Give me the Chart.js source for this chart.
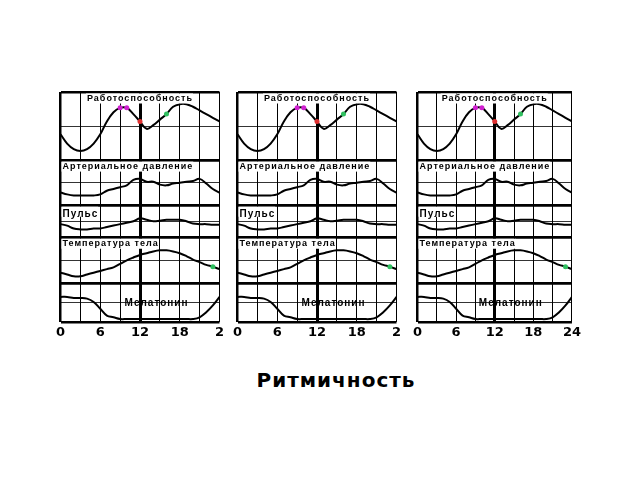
<!DOCTYPE html>
<html><head><meta charset="utf-8">
<script src="https://cdn.jsdelivr.net/npm/chart.js@4"></script>
<style>
body{margin:0;background:#fff;width:640px;height:480px;position:relative;overflow:hidden;font-family:"Liberation Sans",Arial,sans-serif}
.p{position:absolute;top:88px;width:170px;height:254px}
#t{position:absolute;top:368px;left:0;width:672px;text-align:center;font:bold 20px "DejaVu Sans",sans-serif;letter-spacing:1px}
</style></head><body>
<div class="p" style="left:54px;width:172px"><canvas id="c0"></canvas></div>
<div class="p" style="left:231px;width:172px"><canvas id="c1"></canvas></div>
<div class="p" style="left:411px;width:172px"><canvas id="c2"></canvas></div>
<div id="t">Ритмичность</div>
<script>
const hours=[0,1,2,3,4,5,6,7,8,9,10,11,12,13,14,15,16,17,18,19,20,21,22,23,24];
const rowTitles=["Работоспособность","Артериальное давление","Пульс","Температура тела","Мелатонин"];
const work=[70,45,30,25,30,45,70,105,130,142,142,125,105,85,95,110,125,145,152,152,145,135,125,115,105];
const pressure=[35,30,27,27,27,27,30,40,45,50,55,70,73,65,65,57,55,60,62,65,67,73,60,45,35];
const pulse=[45,40,30,27,27,30,30,35,40,45,50,55,65,60,55,57,60,60,60,55,47,45,45,43,43];
const temperature=[30,25,20,20,25,30,35,40,45,55,65,73,80,85,90,93,93,90,85,77,67,60,52,47,40];
const melatonin=[75,75,72,72,70,60,40,20,15,10,10,10,10,10,10,10,10,10,10,10,10,15,30,50,75];
const rowMax=[185,125,110,130,115];
const rowWeights=[68,45,32,46,39];
const markers=[{row:0,h:9,c:"#d020d0"},{row:0,h:10,c:"#d020d0"},{row:0,h:12,c:"#e03030"},{row:0,h:16,c:"#30c060"},{row:3,h:23,c:"#30c060"}];
const xTickLabels=[["0","6","12","18","2"],["0","6","12","18","2"],["0","6","12","18","24"]];
const series=[work,pressure,pulse,temperature,melatonin];

const titlePlugin={id:"tp",afterDraw(ch){
  const ctx=ch.ctx;ctx.save();ctx.fillStyle="#000";
  const xs=ch.scales.x;
  ctx.letterSpacing="1px";
  rowTitles.forEach((t,i)=>{
    const s=ch.scales["y"+i];
    if(i===4){ctx.font="bold 10px 'Liberation Sans',Arial";ctx.textAlign="center";ctx.textBaseline="middle";
      ctx.fillText(t,xs.getPixelForValue(14.5),(s.top+s.bottom)/2);}
    else{ctx.font=(i===2?"bold 10px":"bold 9px")+" 'Liberation Sans',Arial";ctx.textAlign="left";ctx.textBaseline="top";
      const w=ctx.measureText(t).width;
      const x=i===0?xs.getPixelForValue(12)-w/2:xs.left+2;
      ctx.fillStyle="#fff";ctx.fillRect(x-1,s.top+1.5,w+1,10);ctx.fillStyle="#000";
      ctx.fillText(t,x,s.top+(i===2?4:2));}
  });
  ctx.restore();}};

function make(id,pi){
  const datasets=series.map((d,i)=>({data:hours.map((h,k)=>({x:h,y:d[k]})),yAxisID:"y"+i,borderColor:"#000",borderWidth:2,tension:0.4,
    pointRadius:hours.map(h=>markers.some(m=>m.row===i&&m.h===h)?2.5:0),
    pointBackgroundColor:hours.map(h=>{const m=markers.find(m=>m.row===i&&m.h===h);return m?m.c:"#000";}),pointBorderWidth:0}));
  const scales={x:{type:"linear",min:0,max:24,
    ticks:{stepSize:3,autoSkip:false,maxRotation:0,minRotation:0,color:"#000",font:{size:13,weight:"bold",family:"'DejaVu Sans',sans-serif"},padding:2,
      callback:v=>v%6===0?xTickLabels[pi][v/6]:""},
    grid:{color:"#000",lineWidth:c=>c.tick&&c.tick.value===12?3:(c.tick&&c.tick.value===0?2.5:1),drawTicks:false},border:{display:false}}};
  rowMax.forEach((m,i)=>{scales["y"+i]={type:"linear",min:0,max:m,stack:"s",stackWeight:rowWeights[i],offset:false,
    position:"left",afterBuildTicks:ax=>{ax.ticks=[{value:0},{value:m/2},{value:m}];},
    ticks:{display:false},grid:{color:"#000",lineWidth:c=>c.index===1?0.8:2.5,drawTicks:false},border:{display:false}};});
  const order=["y4","y3","y2","y1","y0"];
  const sc={x:scales.x};order.forEach(k=>sc[k]=scales[k]);
  new Chart(document.getElementById(id),{type:"line",data:{datasets},
    options:{responsive:true,maintainAspectRatio:false,animation:false,layout:{padding:{top:4,right:0,left:0,bottom:0}},
      plugins:{legend:{display:false},tooltip:{enabled:false}},scales:sc},plugins:[titlePlugin]});
}
make("c0",0);make("c1",1);make("c2",2);
</script></body></html>
